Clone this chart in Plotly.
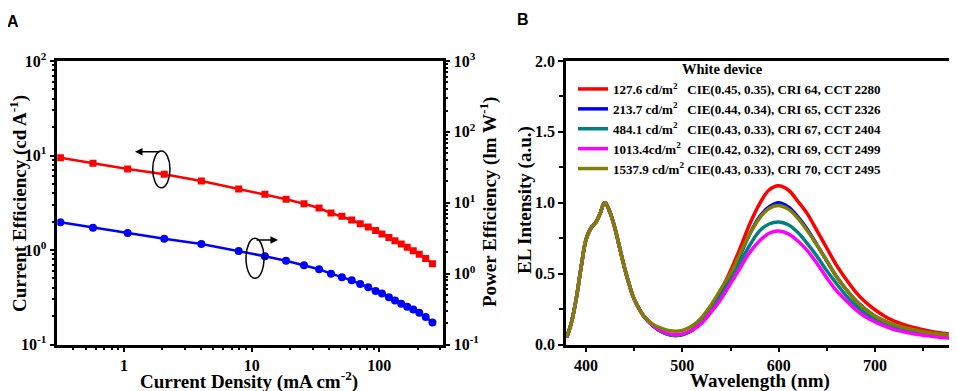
import plotly.graph_objects as go

# ---------------- Panel A data ----------------
current_density = [0.318, 0.572, 1.069, 2.068, 4.04, 7.91, 12.7, 18.6, 25.7, 33.7,
                   41.8, 50.9, 60.7, 70.8, 81.8, 93.5, 104.8, 118.8, 132.4, 148.3,
                   165.3, 184.2, 205.3, 230.5, 260.5]
current_eff = [9.48, 8.26, 7.19, 6.32, 5.37, 4.42, 3.88, 3.45, 3.08, 2.78,
               2.46, 2.27, 2.08, 1.90, 1.75, 1.61, 1.48, 1.36, 1.25, 1.16,
               1.07, 0.98, 0.90, 0.815, 0.715]
power_eff = [5.30, 4.45, 3.74, 3.11, 2.62, 2.09, 1.76, 1.52, 1.31, 1.15,
             1.00, 0.887, 0.805, 0.714, 0.641, 0.569, 0.525, 0.464, 0.418, 0.377,
             0.341, 0.312, 0.281, 0.245, 0.204]
x_ticks_A = [1, 10, 100]
x_ticktext_A = ["1", "10", "100"]
ce_ticks = [0.1, 1, 10, 100]
ce_ticktext = ["10<sup>-1</sup>", "10<sup>0</sup>", "10<sup>1</sup>", "10<sup>2</sup>"]
pe_ticks = [0.1, 1, 10, 100, 1000]
pe_ticktext = ["10<sup>-1</sup>", "10<sup>0</sup>", "10<sup>1</sup>", "10<sup>2</sup>", "10<sup>3</sup>"]
log_minor = [m * 10 ** e for e in range(-1, 3) for m in range(2, 10)]

# ---------------- Panel B data ----------------
wavelength = [380, 385, 390, 395, 400, 405, 410, 415, 418, 420, 425, 430, 435, 440, 445,
              450, 460, 470, 480, 490, 500, 510, 520, 530, 540, 550, 560, 570, 580, 590,
              600, 610, 620, 630, 640, 650, 660, 670, 680, 690, 700, 710, 720, 730, 740,
              750, 760, 770, 780]
blue_part = [0.05, 0.16, 0.33, 0.55, 0.74, 0.82, 0.86, 0.93, 0.99, 1.00, 0.93, 0.82, 0.68, 0.54, 0.42,
             0.32, 0.20, 0.13]
el_127 = blue_part + [0.085, 0.065, 0.07, 0.10, 0.16, 0.25, 0.38, 0.52, 0.68, 0.85, 0.99, 1.09,
                      1.12, 1.09, 1.01, 0.92, 0.80, 0.68, 0.56, 0.46, 0.37, 0.30, 0.245, 0.20, 0.165, 0.14, 0.12,
                      0.105, 0.09, 0.08, 0.07]
el_213 = blue_part + [0.085, 0.065, 0.07, 0.10, 0.16, 0.25, 0.36, 0.48, 0.63, 0.78, 0.90, 0.97,
                      1.00, 0.97, 0.90, 0.81, 0.70, 0.59, 0.48, 0.39, 0.31, 0.25, 0.20, 0.165, 0.135, 0.115, 0.10,
                      0.085, 0.075, 0.068, 0.06]
el_484 = blue_part + [0.085, 0.065, 0.07, 0.10, 0.16, 0.24, 0.34, 0.45, 0.58, 0.70, 0.80, 0.85,
                      0.865, 0.845, 0.79, 0.71, 0.62, 0.52, 0.43, 0.345, 0.275, 0.22, 0.18, 0.145, 0.12, 0.10, 0.085,
                      0.075, 0.066, 0.06, 0.055]
el_1013 = blue_part + [0.09, 0.07, 0.075, 0.10, 0.15, 0.23, 0.32, 0.43, 0.54, 0.65, 0.73, 0.785,
                       0.80, 0.78, 0.73, 0.66, 0.57, 0.47, 0.38, 0.31, 0.245, 0.195, 0.16, 0.13, 0.105, 0.09, 0.075,
                       0.066, 0.057, 0.05, 0.045]
el_1537 = blue_part[:-1] + [0.14, 0.11, 0.095, 0.10, 0.13, 0.19, 0.28, 0.39, 0.50, 0.64, 0.78, 0.89, 0.96,
                            0.98, 0.955, 0.89, 0.80, 0.70, 0.59, 0.48, 0.39, 0.31, 0.25, 0.20, 0.165, 0.14, 0.12, 0.105,
                            0.09, 0.08, 0.072, 0.066]

legend_title = "White device"
series_names = [
    "127.6 cd/m<sup>2</sup>\u00a0\u00a0\u00a0CIE(0.45, 0.35), CRI 64, CCT 2280",
    "213.7 cd/m<sup>2</sup>\u00a0\u00a0\u00a0CIE(0.44, 0.34), CRI 65, CCT 2326",
    "484.1 cd/m<sup>2</sup>\u00a0\u00a0\u00a0CIE(0.43, 0.33), CRI 67, CCT 2404",
    "1013.4cd/m<sup>2</sup>\u00a0\u00a0CIE(0.42, 0.32), CRI 69, CCT 2499",
    "1537.9 cd/m<sup>2</sup>\u00a0CIE(0.43, 0.33), CRI 70, CCT 2495",
]
series_values = [el_127, el_213, el_484, el_1013, el_1537]
series_colors = ["#ff0000", "#0000ff", "#008080", "#ff00ff", "#808000"]

# the page has an 8px body margin, so map window pixels to figure coordinates
OFF = 8
W, H = 957 - OFF, 391 - OFF
def px(x):
    return (x - OFF) / W
def py(y):
    return 1 - (y - OFF) / H

SERIF = "Liberation Serif"
tickfont = dict(family=SERIF, size=16, color="black", weight="bold")

fig = go.Figure()
fig.add_trace(go.Scatter(x=current_density, y=current_eff, xaxis="x", yaxis="y",
                         mode="lines+markers", line=dict(color="#ff0000", width=2.5),
                         marker=dict(symbol="square", size=7, color="#ff0000"), showlegend=False))
fig.add_trace(go.Scatter(x=current_density, y=power_eff, xaxis="x", yaxis="y2",
                         mode="lines+markers", line=dict(color="#0000ff", width=2.5),
                         marker=dict(symbol="circle", size=8, color="#0000ff"), showlegend=False))
for name, vals, col in zip(series_names, series_values, series_colors):
    fig.add_trace(go.Scatter(x=wavelength, y=vals, xaxis="x2", yaxis="y3", mode="lines",
                             line=dict(color=col, width=3.5, shape="spline"), name=name))

axis_common = dict(showline=True, linecolor="black", linewidth=2.5, ticks="outside",
                   ticklen=5, tickwidth=2, tickcolor="black", showgrid=False, zeroline=False,
                   tickfont=tickfont)
minor_log = dict(ticks="outside", ticklen=3, tickwidth=1.5, tickcolor="black",
                 tickmode="array", tickvals=log_minor, showgrid=False)

yA = [61, 344.5]
fig.update_layout(
    width=W, height=H, margin=dict(l=0, r=0, t=0, b=0, autoexpand=False),
    paper_bgcolor="white", plot_bgcolor="white",
    xaxis=dict(type="log", range=[-0.522, 2.496], domain=[px(57.3), px(442.7)], anchor="y",
               mirror=True, tickmode="array", tickvals=x_ticks_A, ticktext=x_ticktext_A,
               minor=minor_log, **axis_common),
    yaxis=dict(type="log", range=[-1, 2], domain=[py(yA[1]), py(yA[0])], anchor="x",
               tickmode="array", tickvals=ce_ticks, ticktext=ce_ticktext, minor=minor_log, **axis_common),
    yaxis2=dict(type="log", range=[-1, 3], overlaying="y", side="right", anchor="x",
                tickmode="array", tickvals=pe_ticks, ticktext=pe_ticktext,
                minor=dict(minor_log, tickvals=log_minor + [m * 100 for m in range(2, 10)]), **axis_common),
    xaxis2=dict(range=[379.2, 780.7], domain=[px(566), px(952.7)], anchor="y3", mirror=True,
                dtick=100, tick0=400,
                minor=dict(ticks="outside", ticklen=4, tickwidth=2, tickcolor="black", dtick=50, showgrid=False),
                **axis_common),
    yaxis3=dict(range=[0, 2.0], domain=[py(yA[1]), py(yA[0])], anchor="x2", mirror=True,
                dtick=0.5, tickformat=".1f",
                minor=dict(ticks="outside", ticklen=4, tickwidth=2, tickcolor="black", dtick=0.25, showgrid=False),
                **axis_common),
    legend=dict(x=px(573), y=py(74), xanchor="left", yanchor="top", bgcolor="rgba(0,0,0,0)",
                font=dict(family=SERIF, size=13, color="black", weight="bold"),
                tracegroupgap=0, itemwidth=30),
)

title_font = dict(family=SERIF, size=19, color="black", weight="bold")
ann = [
    dict(text="A", x=px(13), y=py(21), font=dict(family="Liberation Sans", size=16, color="black", weight="bold")),
    dict(text="B", x=px(523), y=py(19), font=dict(family="Liberation Sans", size=16, color="black", weight="bold")),
    dict(text=legend_title, x=px(722), y=py(69), font=dict(family=SERIF, size=14.5, color="black", weight="bold")),
    dict(text="Current Efficiency (cd A<sup>-1</sup>)", x=px(18), y=py(204), textangle=-90, font=title_font),
    dict(text="Power Efficiency (lm W<sup>-1</sup>)", x=px(488), y=py(202), textangle=-90, font=title_font),
    dict(text="EL Intensity (a.u.)", x=px(525), y=py(200), textangle=-90, font=title_font),
    dict(text="Current Density (mA cm<sup>-2</sup>)", x=px(249), y=py(380), font=title_font),
    dict(text="Wavelength (nm)", x=px(760), y=py(381), font=title_font),
]
for a in ann:
    a.update(xref="paper", yref="paper", showarrow=False, xanchor="center", yanchor="middle")
    fig.add_annotation(**a)

# arrows pointing to the relevant axis
fig.add_annotation(x=px(135), y=py(151.7), xref="paper", yref="paper", ax=26, ay=0, text="",
                   showarrow=True, arrowhead=2, arrowsize=1, arrowwidth=1.5, arrowcolor="black")
fig.add_annotation(x=px(278), y=py(240), xref="paper", yref="paper", ax=-23, ay=0, text="",
                   showarrow=True, arrowhead=2, arrowsize=1, arrowwidth=1.5, arrowcolor="black")
fig.add_shape(type="circle", xref="paper", yref="paper", x0=px(152.7), x1=px(170), y0=py(187.7), y1=py(151),
              line=dict(color="black", width=1.5))
fig.add_shape(type="circle", xref="paper", yref="paper", x0=px(246), x1=px(264), y0=py(278.3), y1=py(238.3),
              line=dict(color="black", width=1.5))

fig.write_html("out.html")
